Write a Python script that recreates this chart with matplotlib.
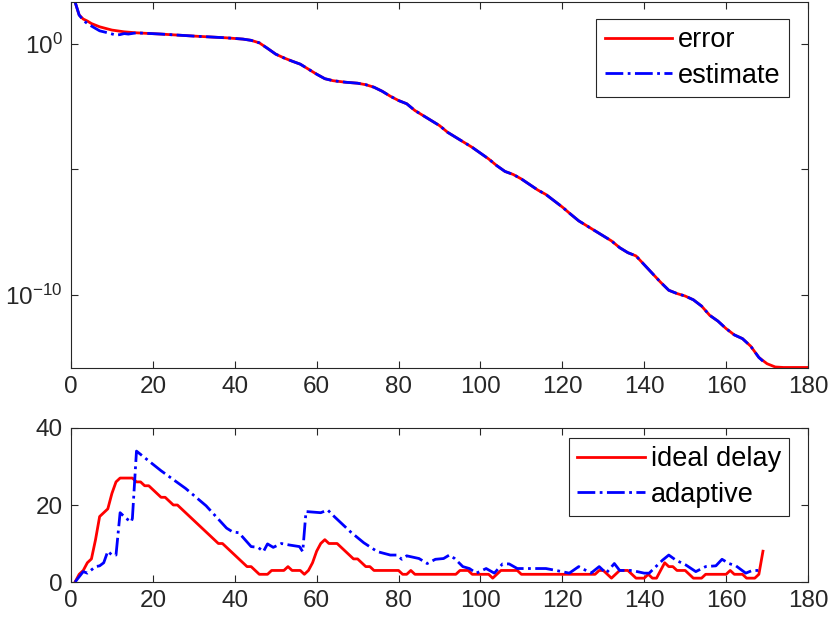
import numpy as np
import matplotlib
matplotlib.use("Agg")
import matplotlib.pyplot as plt
from matplotlib.ticker import FixedLocator, NullLocator

plt.rcParams['font.family'] = ['Liberation Sans', 'DejaVu Sans']
plt.rcParams['mathtext.default'] = 'regular'

# top panel: error and estimate (log10 of the value)
err_x = [1, 2, 3, 4, 5, 7, 10, 13, 16, 22, 30, 38, 42, 44, 46, 48, 50, 52, 54, 56,
         58, 60, 62, 64, 67, 70, 72, 74, 76, 78, 80, 82, 84, 86, 88, 90, 92, 94, 96, 98,
         100, 102, 104, 106, 108, 110, 112, 114, 116, 118, 120, 122, 124, 126, 128, 130,
         132, 134, 136, 138, 140, 142, 144, 146, 148, 150, 152, 154, 156, 158, 160, 162,
         164, 166, 168, 170, 172, 174, 180]
err_log = [1.68, 1.16, 1.0, 0.92, 0.82, 0.69, 0.56, 0.49, 0.45, 0.40, 0.32, 0.25, 0.20,
           0.15, 0.05, -0.17, -0.40, -0.55, -0.68, -0.80, -1.0, -1.2, -1.38, -1.46, -1.52,
           -1.56, -1.62, -1.72, -1.88, -2.08, -2.25, -2.38, -2.65, -2.85, -3.05, -3.25,
           -3.52, -3.72, -3.92, -4.12, -4.35, -4.58, -4.85, -5.08, -5.2, -5.38, -5.6, -5.82,
           -6.0, -6.25, -6.5, -6.78, -7.05, -7.25, -7.45, -7.65, -7.85, -8.12, -8.32, -8.45,
           -8.8, -9.15, -9.5, -9.82, -9.95, -10.05, -10.2, -10.45, -10.82, -11.05, -11.35,
           -11.6, -11.75, -12.05, -12.5, -12.75, -12.88, -12.9, -12.9]

est_x = [1, 2, 3, 4, 5, 7, 9, 11, 12, 13, 14, 16, 22, 30, 38, 42, 44, 46, 48, 50, 52,
         54, 56, 58, 60, 62, 64, 67, 70, 72, 74, 76, 78, 80, 82, 84, 86, 88, 90, 92, 94,
         96, 98, 100, 102, 104, 106, 108, 110, 112, 114, 116, 118, 120, 122, 124, 126,
         128, 130, 132, 134, 136, 138, 140, 142, 144, 146, 148, 150, 152, 154, 156, 158,
         160, 162, 164, 166, 168, 169]
est_log = [1.68, 1.16, 0.95, 0.82, 0.72, 0.53, 0.45, 0.36, 0.38, 0.42, 0.40, 0.45, 0.40,
           0.32, 0.25, 0.20, 0.15, 0.05, -0.17, -0.40, -0.55, -0.68, -0.80, -1.0, -1.2,
           -1.38, -1.46, -1.52, -1.56, -1.62, -1.72, -1.88, -2.08, -2.25, -2.38, -2.65,
           -2.85, -3.05, -3.25, -3.52, -3.72, -3.92, -4.12, -4.35, -4.58, -4.85, -5.08,
           -5.2, -5.38, -5.6, -5.82, -6.0, -6.25, -6.5, -6.78, -7.05, -7.25, -7.45, -7.65,
           -7.85, -8.12, -8.32, -8.45, -8.8, -9.15, -9.5, -9.82, -9.95, -10.05, -10.2,
           -10.45, -10.82, -11.05, -11.35, -11.6, -11.75, -12.05, -12.5, -12.65]

# bottom panel: delays
ideal_x = list(range(1, 170))
ideal = [0, 2, 3, 5, 6, 11, 17, 18, 19, 23, 26, 27, 27, 27, 27, 26, 26, 25, 25, 24,
         23, 22, 22, 21, 20, 20, 19, 18, 17, 16, 15, 14, 13, 12, 11, 10, 10, 9, 8, 7,
         6, 5, 4, 4, 3, 2, 2, 2, 3, 3, 3, 3, 4, 3, 3, 3, 2, 3, 5, 8,
         10, 11, 10, 10, 10, 9, 8, 7, 6, 6, 5, 4, 4, 3, 3, 3, 3, 3, 3, 3,
         2, 2, 3, 2, 2, 2, 2, 2, 2, 2, 2, 2, 2, 2, 3, 3, 3, 2, 2, 2,
         2, 2, 1, 2, 3, 3, 3, 3, 3, 2, 2, 2, 2, 2, 2, 2, 2, 2, 2, 2,
         2, 2, 2, 2, 2, 2, 2, 2, 3, 3, 2, 1, 2, 3, 3, 3, 2, 1, 1, 1,
         2, 1, 1, 3, 5, 4, 4, 3, 3, 3, 2, 1, 1, 1, 2, 2, 2, 2, 2, 2,
         3, 2, 2, 2, 1, 1, 1, 2, 8]

adapt_x = [1, 3, 4, 6, 7, 8, 9, 10, 11, 12, 13.5, 14.7, 15, 16, 16.7, 22, 28, 33, 38,
           39.5, 41, 44, 45.7, 47, 48, 49.4, 51.4, 53.4, 55.8, 56.6, 57.4, 61, 62.7, 64.3,
           68.3, 71.5, 74.8, 78, 79.6, 80.8, 82, 85, 87, 89, 91, 92.4, 93.7, 95.7, 97.3,
           99, 101.4, 103.4, 105.4, 107, 109, 113, 116, 118.5, 121.7, 124, 127, 129,
           130.7, 132.7, 134, 137, 140, 141.2, 144.5, 146, 147.7, 150.2, 152.6, 155,
           157.5, 159, 160.7, 162.4, 164.8, 166.4, 168]
adapt = [0, 2.7, 2.3, 4, 4.2, 5, 8, 7, 7, 18, 16.5, 15.6, 16.5, 34, 33.4, 28.9, 24.3,
         19.8, 14, 13, 12.8, 9.2, 9, 7.9, 9.9, 9, 10, 9.6, 9.2, 7.9, 18.3, 18, 18.7, 17,
         13, 10.2, 7.9, 7, 7, 5.9, 6.8, 6.1, 4.8, 5.9, 6.1, 7, 6.1, 4, 3.5, 2.3, 3.5, 2.3,
         4.7, 4.7, 3.5, 3.5, 3.5, 3, 2.3, 4, 2.3, 4, 2.3, 4.8, 3, 3, 2.3, 2.3, 5.7, 7, 5.7,
         4.4, 2.7, 4, 4.2, 5.9, 4.8, 4.2, 2.3, 3, 3]

axis_col = '#262626'
fig = plt.figure(figsize=(8.3, 6.22), dpi=100)
ax1 = fig.add_axes([0.0855, 0.4084, 0.888, 0.5884])
ax2 = fig.add_axes([0.0855, 0.0643, 0.888, 0.2476])

ax1.semilogy(err_x, 10.0 ** np.array(err_log), '-', color='red', lw=2, label='error')
ax1.semilogy(est_x, 10.0 ** np.array(est_log), '-.', color='blue', lw=2, label='estimate')
ax1.set_xlim(0, 180)
ax1.set_ylim(10 ** -12.92, 10 ** 1.68)
ax1.yaxis.set_major_locator(FixedLocator([1e-10, 1e-5, 1e0]))
ax1.yaxis.set_minor_locator(NullLocator())
ax1.set_yticklabels(['$10^{-10}$', '', '$10^{0}$'])

ax2.plot(ideal_x, ideal, '-', color='red', lw=2, label='ideal delay')
ax2.plot(adapt_x, adapt, '-.', color='blue', lw=2, label='adaptive')
ax2.set_xlim(0, 180)
ax2.set_ylim(0, 40)
ax2.set_yticks([0, 20, 40])

legend_anchor = {ax1: (0.9742, 0.9536), ax2: (0.9742, 0.935)}
for ax in (ax1, ax2):
    ax.set_xticks(range(0, 181, 20))
    ax.tick_params(direction='in', top=True, right=True, length=5, width=0.8,
                   colors=axis_col, labelsize=17.5, pad=6)
    for s in ax.spines.values():
        s.set_color(axis_col)
        s.set_linewidth(0.8)
    leg = ax.legend(loc='upper right', bbox_to_anchor=legend_anchor[ax],
                    fontsize=19.5, fancybox=False, framealpha=1,
                    edgecolor=axis_col, handlelength=2.5, handletextpad=0.22,
                    borderpad=0.3, labelspacing=0.35, borderaxespad=0)
    leg.get_frame().set_linewidth(0.8)

fig.savefig('out.png', dpi=100)
